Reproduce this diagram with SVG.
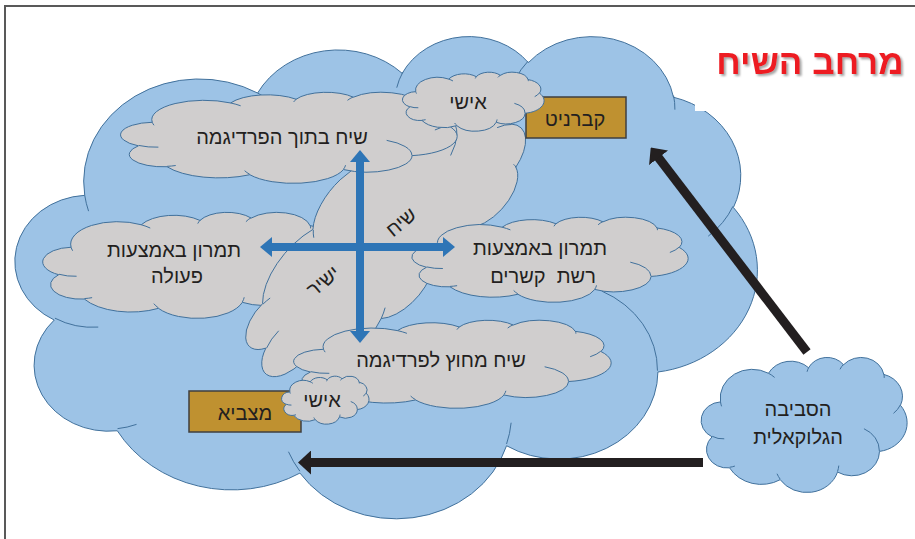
<svg xmlns="http://www.w3.org/2000/svg" xmlns:xlink="http://www.w3.org/1999/xlink" width="915" height="539" viewBox="0 0 915 539">
<style>
.cl{stroke:#41719C;stroke-width:1}
.blue{fill:#9DC3E6}
.grey{fill:#D0CECE}
.dent{fill:none;stroke:#41719C;stroke-width:1}
.t{font-family:"Liberation Sans","DejaVu Sans","Noto Sans",Arial,sans-serif;font-size:20px;fill:#231F20;text-anchor:middle}
.box{fill:#BF9130;stroke:#3F3F3F;stroke-width:1.5}
.ba{stroke:#2E75B6;stroke-width:8;fill:none}
.ka{stroke:#231F20;stroke-width:9;fill:none}
</style>
<defs>
<path id="cloud" vector-effect="non-scaling-stroke" d="M9.03,33.26 A15.63,21.27 0 0 1 32.42,12.04 A12.34,16.82 0 0 1 51.99,7.95 A10.10,13.76 0 0 1 69.06,5.74 A11.24,15.27 0 0 1 88.70,12.91 A12.34,16.84 0 0 1 96.81,35.79 A15.68,21.34 0 0 1 86.59,69.92 A13.39,18.21 0 0 1 66.11,85.22 A15.63,21.33 0 0 1 38.15,90.89 A17.87,24.41 0 0 1 13.44,82.11 A10.09,13.70 0 0 1 4.90,59.14 A10.06,13.76 0 0 1 9.03,33.26 Z"/>
<path id="dents" vector-effect="non-scaling-stroke" d="M10.86,60.60 A10.06,13.76 0 0 1 5.00,58.75 M16.04,80.78 A10.09,13.70 0 0 1 13.47,81.67 M38.14,90.49 A15.63,21.33 0 0 1 36.60,86.46 M66.73,80.44 A15.63,21.33 0 0 1 66.11,84.86 M79.00,53.13 A13.39,18.21 0 0 1 86.53,69.65 M96.75,35.54 A12.34,16.84 0 0 1 93.40,41.74 M88.71,12.56 A11.24,15.27 0 0 1 88.89,15.49 M67.31,9.15 A11.24,15.27 0 0 1 69.03,5.41 M51.25,10.93 A10.10,13.76 0 0 1 52.08,7.71 M32.41,12.02 A15.63,21.27 0 0 1 35.42,15.15 M9.55,36.55 A15.63,21.27 0 0 1 9.03,33.26"/>
<marker id="bh" markerUnits="userSpaceOnUse" viewBox="0 0 12 20" markerWidth="12" markerHeight="20" refX="1" refY="10" orient="auto-start-reverse"><path d="M0,0 L12,10 L0,20 Z" fill="#2E75B6"/></marker>
<marker id="kh" markerUnits="userSpaceOnUse" viewBox="0 0 13 24" markerWidth="13" markerHeight="24" refX="1" refY="12" orient="auto"><path d="M0,0 L13,12 L0,24 Z" fill="#231F20"/></marker>
<filter id="sh" x="-10%" y="-20%" width="130%" height="150%"><feDropShadow dx="2" dy="2" stdDeviation="1" flood-color="#7F7F7F" flood-opacity="0.7"/></filter>
</defs>

<path d="M5,539 V6 H915" fill="none" stroke="#595959" stroke-width="2"/>

<g id="space">
<use href="#cloud" class="cl blue" transform="translate(18,35) scale(7.39,4.82)"/>
<use href="#dents" class="dent" transform="translate(18,35) scale(7.39,4.82)"/>
</g>
<rect x="695" y="8" width="218" height="103" fill="#FFFFFF"/>

<g id="action">
<use href="#cloud" class="cl grey" transform="translate(44,212) scale(3.0,1.06)"/>
<use href="#dents" class="dent" transform="translate(44,212) scale(3.0,1.06)"/>
</g>

<g id="direct">
<use href="#cloud" class="cl grey" transform="translate(384,236) rotate(-48) scale(1,-1) translate(-180,-70) scale(3.6,1.4)"/>
<use href="#dents" class="dent" transform="translate(384,236) rotate(-48) scale(1,-1) translate(-180,-70) scale(3.6,1.4)"/>
<text class="t" transform="translate(401,222) rotate(-40)" y="7">שיח</text>
<text class="t" transform="translate(323,281) rotate(-40)" y="7">ישיר</text>
</g>

<g id="inside">
<use href="#cloud" class="cl grey" transform="translate(122,92) scale(3.35,0.91)"/>
<use href="#dents" class="dent" transform="translate(122,92) scale(3.35,0.91)"/>
<text class="t" x="282" y="144">שיח בתוך הפרדיגמה</text>
</g>
<text class="t" x="174" y="257">תמרון באמצעות</text>
<text class="t" x="177" y="283">פעולה</text>

<g id="network">
<use href="#cloud" class="cl grey" transform="translate(413,217) scale(2.75,0.85)"/>
<use href="#dents" class="dent" transform="translate(413,217) scale(2.75,0.85)"/>
<text class="t" x="540" y="255">תמרון באמצעות</text>
<text class="t" x="543" y="283" style="white-space:pre">רשת  קשרים</text>
</g>

<g id="outside">
<use href="#cloud" class="cl grey" transform="translate(295,320) scale(3.16,0.88)"/>
<use href="#dents" class="dent" transform="translate(295,320) scale(3.16,0.88)"/>
<text class="t" x="441" y="367">שיח מחוץ לפרדיגמה</text>
</g>

<g id="captain">
<rect class="box" x="526" y="97" width="100" height="41"/>
<text class="t" x="575" y="126">קברניט</text>
</g>
<g id="personal-top">
<use href="#cloud" class="cl grey" transform="translate(403,72) scale(1.41,0.59)"/>
<use href="#dents" class="dent" transform="translate(403,72) scale(1.41,0.59)"/>
<text class="t" x="468" y="109">אישי</text>
</g>

<g id="commander">
<rect class="box" x="189" y="391" width="112" height="41"/>
<text class="t" x="245" y="420">מצביא</text>
</g>
<g id="personal-bottom">
<use href="#cloud" class="cl grey" transform="translate(282,376) scale(0.87,0.48)"/>
<use href="#dents" class="dent" transform="translate(282,376) scale(0.87,0.48)"/>
<text class="t" x="322" y="407">אישי</text>
</g>

<g id="glocal">
<use href="#cloud" class="cl blue" transform="translate(702,357) scale(2.05,1.35)"/>
<use href="#dents" class="dent" transform="translate(702,357) scale(2.05,1.35)"/>
<text class="t" x="798" y="416">הסביבה</text>
<text class="t" x="798" y="444">הגלוקאלית</text>
</g>

<g id="connectors">
<line class="ba" x1="360" y1="161" x2="360" y2="332" marker-start="url(#bh)" marker-end="url(#bh)"/>
<line class="ba" x1="271" y1="247" x2="444" y2="247" marker-start="url(#bh)" marker-end="url(#bh)"/>
<line class="ka" x1="807" y1="352" x2="658" y2="157" marker-end="url(#kh)"/>
<line class="ka" x1="703" y1="462.5" x2="310" y2="462.5" marker-end="url(#kh)"/>
</g>

<text x="810" y="74" font-family="Liberation Sans,DejaVu Sans,Arial,sans-serif" font-size="35" font-weight="bold" fill="#ED1C24" text-anchor="middle" filter="url(#sh)">מרחב השיח</text>
</svg>
